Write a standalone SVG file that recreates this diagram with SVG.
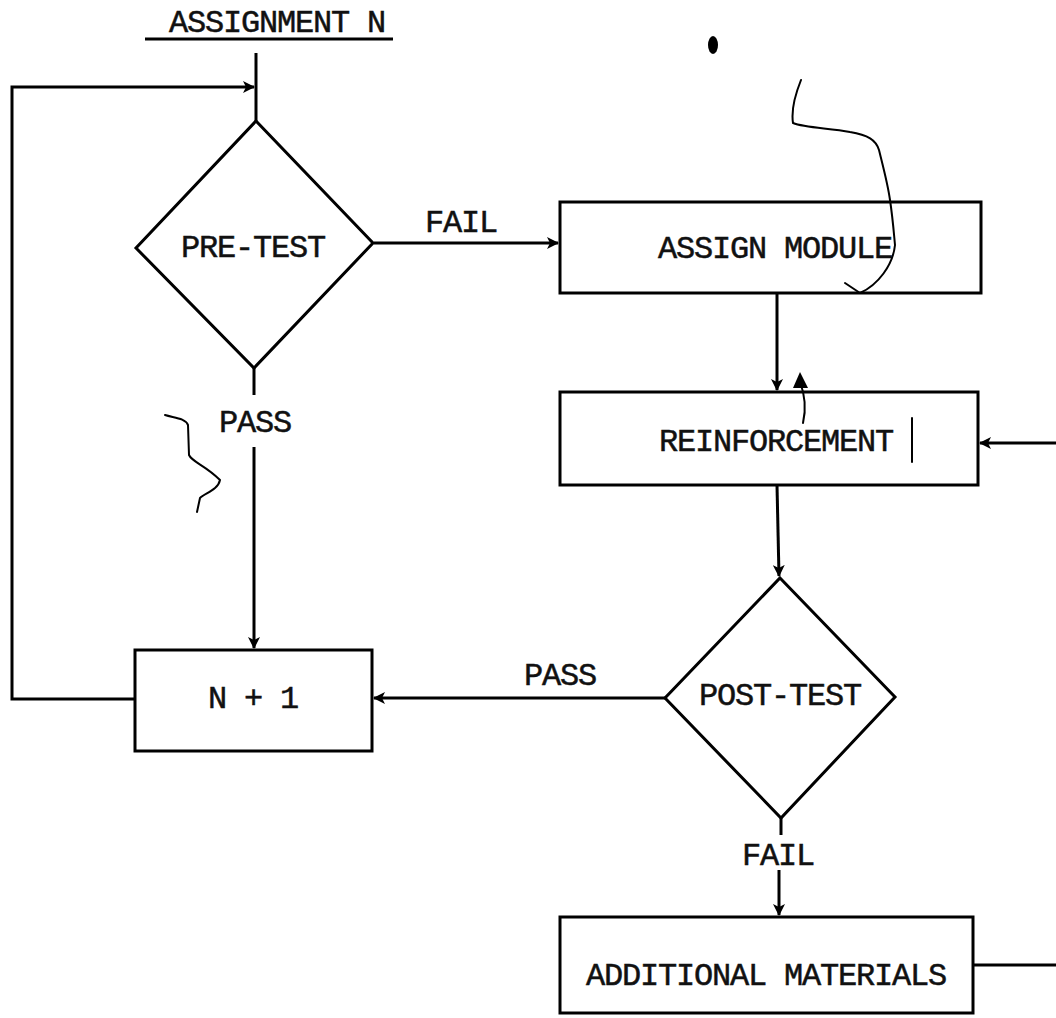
<svg xmlns="http://www.w3.org/2000/svg" width="1056" height="1018" viewBox="0 0 1056 1018">
<style>
.shape{fill:none;stroke:#000;stroke-width:3;stroke-linejoin:miter}
.conn{fill:none;stroke:#000;stroke-width:3}
.hand{fill:none;stroke:#000;stroke-width:2;stroke-linecap:round;stroke-linejoin:round}
.lbl{font-family:"Liberation Mono","DejaVu Sans Mono",monospace;font-size:32px;letter-spacing:-1.2px;fill:#111;stroke:#111;stroke-width:0.5;text-anchor:middle}
</style>
<defs>
<marker id="arr" viewBox="0 0 12 12" refX="11" refY="6" markerWidth="12" markerHeight="12" markerUnits="userSpaceOnUse" orient="auto">
<path d="M0,0 L12,6 L0,12 L3,6 Z" fill="#000"/>
</marker>
</defs>
<rect width="1056" height="1018" fill="#fff"/>

<g id="title">
<text class="lbl" x="277" y="32">ASSIGNMENT N</text>
<line x1="145" y1="39" x2="393" y2="39" stroke="#000" stroke-width="3"/>
</g>

<g id="connectors">
<line class="conn" x1="256" y1="53" x2="256" y2="121"/>
<polyline class="conn" points="135,699 12,699 12,87 254,87" marker-end="url(#arr)"/>
<line class="conn" x1="374" y1="243" x2="558" y2="243" marker-end="url(#arr)"/>
<line class="conn" x1="777" y1="293" x2="777" y2="390" marker-end="url(#arr)"/>
<line class="conn" x1="1056" y1="443" x2="980" y2="443" marker-end="url(#arr)"/>
<line class="conn" x1="777" y1="485" x2="779" y2="576" marker-end="url(#arr)"/>
<line class="conn" x1="254" y1="368" x2="254" y2="395"/>
<line class="conn" x1="254" y1="447" x2="254" y2="648" marker-end="url(#arr)"/>
<line class="conn" x1="665" y1="698" x2="374" y2="698" marker-end="url(#arr)"/>
<line class="conn" x1="781" y1="818" x2="781" y2="835"/>
<line class="conn" x1="779" y1="870" x2="779" y2="915" marker-end="url(#arr)"/>
<line class="conn" x1="973" y1="965" x2="1056" y2="965"/>
<text class="lbl" x="461" y="232">FAIL</text>
<text class="lbl" x="255" y="432">PASS</text>
<text class="lbl" x="560" y="685">PASS</text>
<text class="lbl" x="778" y="865">FAIL</text>
</g>

<g id="pre-test">
<polygon class="shape" points="256,121 373,243 254,368 136,248"/>
<text class="lbl" x="253" y="257">PRE-TEST</text>
</g>

<g id="assign-module">
<rect class="shape" x="560" y="202" width="421" height="91"/>
<text class="lbl" x="775" y="258">ASSIGN MODULE</text>
</g>

<g id="reinforcement">
<rect class="shape" x="560" y="392" width="418" height="93"/>
<text class="lbl" x="776" y="451">REINFORCEMENT</text>
</g>

<g id="post-test">
<polygon class="shape" points="780,578 895,697 781,818 665,698"/>
<text class="lbl" x="780" y="705">POST-TEST</text>
</g>

<g id="n-plus-1">
<rect class="shape" x="135" y="650" width="237" height="101"/>
<text class="lbl" x="253" y="708">N + 1</text>
</g>

<g id="additional-materials">
<rect class="shape" x="560" y="917" width="413" height="96"/>
<text class="lbl" x="766" y="985">ADDITIONAL MATERIALS</text>
</g>

<g id="marks">
<path class="hand" d="M801,80 C795,95 791,110 793,123 C805,128 830,128 850,132 C868,135 876,140 879,150 C884,170 888,185 890,200 C893,220 894,235 895,245 C893,265 878,285 860,293"/>
<path class="hand" d="M845,283 L860,293"/>
<path class="hand" d="M165,415 C175,418 185,418 188,425 L189,455 C192,462 205,465 220,480 C218,490 205,493 200,498 L197,512"/>
<path class="hand" d="M803,423 C806,410 805,395 800,382"/>
<path d="M793,388 L800,372 L808,388 Z" fill="#000"/>
<path class="hand" d="M912,418 L912,462"/>
<ellipse cx="713" cy="45" rx="5" ry="9" fill="#000"/>
</g>
</svg>
